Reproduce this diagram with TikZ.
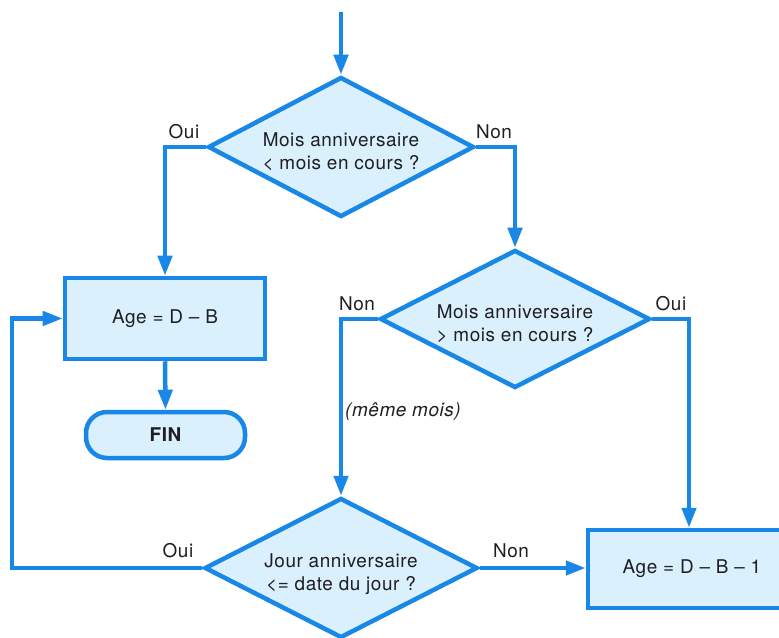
\documentclass[tikz,border=0pt]{standalone}
\usepackage{fontspec}
\setmainfont{TeX Gyre Heros}[LetterSpace=3]
\usetikzlibrary{shapes.geometric,arrows.meta}
\definecolor{fcblue}{RGB}{25,135,230}
\definecolor{fcfill}{RGB}{218,240,252}
\definecolor{fctext}{RGB}{30,30,35}
\begin{document}
\begin{tikzpicture}[x=1bp,y=-1bp,
  txt/.style={text=fctext,font=\fontsize{19}{23}\selectfont},
  flow/.style={draw=fcblue,line width=4.5bp,-{Triangle[length=20bp,width=14bp]}},
  decision/.style={diamond,draw=fcblue,fill=fcfill,line width=4.5bp,inner sep=0pt,aspect=1.9,align=center,txt},
  process/.style={rectangle,draw=fcblue,fill=fcfill,line width=4.5bp,inner sep=0pt,align=center,txt},
  terminal/.style={rectangle,rounded corners=21bp,draw=fcblue,fill=fcfill,line width=4.5bp,inner sep=0pt,txt},
  lbl/.style={inner sep=0pt,txt},
  qtext/.style={inner sep=0pt,align=center,txt}]
\clip (0,0) rectangle (779,638);
\fill[white] (0,0) rectangle (779,638);
\coordinate (start) at (341,12);
\coordinate (loop) at (12,568);
\node[decision,minimum width=266bp,minimum height=140bp] (d1) at (341,147) {};
\node[qtext] (t1) at (341,152) {Mois anniversaire\\< mois en cours ?};
\node[decision,minimum width=270bp,minimum height=138bp] (d2) at (515,319) {};
\node[qtext] (t2) at (515,324) {Mois anniversaire\\> mois en cours ?};
\node[decision,minimum width=273bp,minimum height=140bp] (d3) at (341,568) {};
\node[qtext] (t3) at (341,574) {Jour anniversaire\\<= date du jour ?};
\node[process,minimum width=200bp,minimum height=81bp] (box1) at (165,318.5) {Age = D -- B};
\node[terminal,minimum width=159bp,minimum height=46bp] (fin) at (165.5,435) {\bfseries FIN};
\node[process,minimum width=202bp,minimum height=78bp] (box2) at (689,569) {\hspace*{6bp}Age = D -- B -- 1};
\draw[flow] (start) -- (d1.north);
\draw[flow] (d1.west) -| (box1.north);
\draw[flow] (d1.east) -| (d2.north);
\draw[flow] (box1.south) -- (fin.north);
\draw[flow] (d2.west) -| (d3.north);
\draw[flow] (d2.east) -| (box2.north);
\draw[flow] (d3.east) -- (d3.east -| box2.west);
\draw[flow] (d3.west) -- (loop) |- (box1.west);
\node[lbl] (l1) at (184,132) {Oui};
\node[lbl] (l2) at (494,132) {Non};
\node[lbl] (l3) at (357,304) {Non};
\node[lbl] (l4) at (671,304) {Oui};
\node[lbl,font=\fontsize{19}{23}\selectfont\itshape] (l5) at (403,412) {(même mois)};
\node[lbl] (l6) at (178,551) {Oui};
\node[lbl] (l7) at (511,551) {Non};
\end{tikzpicture}
\end{document}
